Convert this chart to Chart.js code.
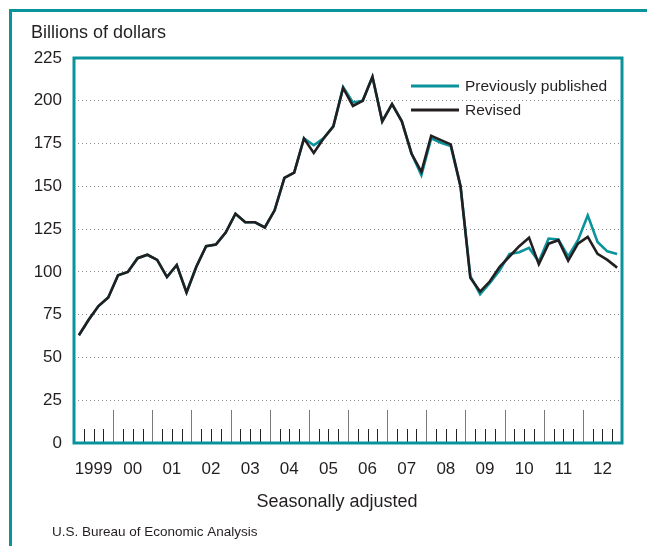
<!DOCTYPE html>
<html>
<head>
<meta charset="utf-8">
<script src="https://cdn.jsdelivr.net/npm/chart.js@4"></script>
<style>
  body { margin: 0; background: #fff; }
  canvas { display: block; }
</style>
</head>
<body>
<canvas id="myChart" width="647" height="546"></canvas>
<script>
// chart data (billions of dollars, quarterly 1999-2012)
var years = ["1999", "00", "01", "02", "03", "04", "05", "06", "07", "08", "09", "10", "11", "12"];
var quarters = [];
for (var y = 0; y < years.length; y++) {
	for (var q = 1; q <= 4; q++) quarters.push(years[y] + " Q" + q);
}
var yTicks = [0, 25, 50, 75, 100, 125, 150, 175, 200, 225];

var previouslyPublished = [
	63, 72, 80, 85, 98, 100, 108, 110, 107, 97, 104, 88,
	103, 115, 116, 123, 134, 129, 129, 126, 136, 155, 158, 178,
	174, 178, 185, 208, 199, 200, 214, 188, 198, 188, 169, 156.5,
	178, 175.5, 173.5, 150, 97.5, 87, 93.5, 101, 110.5, 111.5, 114, 106,
	119.5, 119, 109, 118.5, 133, 117.5, 112, 110.5
];
var revised = [
	63, 72, 80, 85, 98, 100, 108, 110, 107, 97, 104, 88,
	103, 115, 116, 123, 134, 129, 129, 126, 136, 155, 158, 178,
	169.5, 178, 185, 207.5, 197, 200, 214, 188, 198, 188, 169, 158.5,
	179.5, 177, 174.5, 150, 96.5, 88.5, 94.5, 103, 109, 115, 120, 104.5,
	116.5, 118.5, 106.5, 116.5, 120.5, 110.5, 107, 102.5
];

var teal = "#0b939b";
var ink = "#231f20";
var font = "'Liberation Sans', Arial, Helvetica, sans-serif";

// frame, quarter/year ticks, legend and notes
var decor = {
	id: "decor",
	beforeDatasetsDraw: function (chart) {
		var ctx = chart.ctx;
		var area = chart.chartArea;
		var xs = chart.scales.x;
		var step = xs.getPixelForValue(1) - xs.getPixelForValue(0);
		ctx.save();
		ctx.lineWidth = 1;
		for (var i = 1; i < quarters.length; i++) {
			var x = Math.round(xs.getPixelForValue(i) - step / 2) + 0.5;
			var major = i % 4 === 0;
			ctx.strokeStyle = major ? "#7a7a7a" : "#222";
			ctx.beginPath();
			ctx.moveTo(x, area.bottom);
			ctx.lineTo(x, area.bottom - (major ? 33 : 14));
			ctx.stroke();
		}
		ctx.restore();
	},
	afterDraw: function (chart) {
		var ctx = chart.ctx;
		var area = chart.chartArea;
		ctx.save();
		// outer border
		ctx.strokeStyle = teal;
		ctx.lineWidth = 3;
		ctx.strokeRect(10.5, 10.5, 700, 600);
		// plot frame
		ctx.strokeRect(area.left, area.top, area.right - area.left, area.bottom - area.top);

		ctx.fillStyle = ink;
		ctx.textBaseline = "alphabetic";
		ctx.textAlign = "left";
		ctx.font = "18px " + font;
		ctx.fillText("Billions of dollars", 31, 38);
		ctx.textAlign = "center";
		ctx.fillText("Seasonally adjusted", 337, 507);
		ctx.textAlign = "left";
		ctx.font = "13.5px " + font;
		ctx.fillText("U.S. Bureau of Economic Analysis", 52, 536);

		// legend
		var items = [chart.data.datasets[0], chart.data.datasets[1]];
		ctx.font = "15.5px " + font;
		ctx.textBaseline = "middle";
		for (var k = 0; k < items.length; k++) {
			var ly = 86 + k * 24;
			ctx.strokeStyle = items[k].borderColor;
			ctx.lineWidth = 3;
			ctx.beginPath();
			ctx.moveTo(411, ly);
			ctx.lineTo(459, ly);
			ctx.stroke();
			ctx.fillText(items[k].label, 465, ly + 1);
		}
		ctx.restore();
	},
};

var ctx = document.getElementById("myChart").getContext("2d");
var myChart = new Chart(ctx, {
	type: "line",
	data: {
		labels: quarters,
		datasets: [
			{
				label: "Previously published",
				data: previouslyPublished,
				borderColor: teal,
				borderWidth: 2.6,
				pointRadius: 0,
				order: 2,
			},
			{
				label: "Revised",
				data: revised,
				borderColor: ink,
				borderWidth: 2.6,
				pointRadius: 0,
				order: 1,
			},
		],
	},
	options: {
		responsive: false,
		devicePixelRatio: 1,
		animation: false,
		layout: {
			padding: { top: 58, right: 25, left: 0, bottom: 0 },
		},
		plugins: {
			legend: { display: false },
			tooltip: { enabled: false },
		},
		scales: {
			x: {
				type: "category",
				labels: quarters,
				offset: true,
				display: false,
			},
			years: {
				type: "category",
				labels: years,
				position: "bottom",
				offset: true,
				grid: { display: false },
				border: { display: false },
				ticks: {
					color: ink,
					font: { family: font, size: 17 },
					padding: 8,
					maxRotation: 0,
					autoSkip: false,
				},
				afterFit: function (scale) {
					scale.height = 103;
				},
			},
			y: {
				min: 0,
				max: 225,
				afterBuildTicks: function (scale) {
					scale.ticks = yTicks.map(function (v) {
						return { value: v };
					});
				},
				border: { display: false },
				grid: {
					color: "#8a8a8a",
					lineWidth: 1,
					drawTicks: false,
				},
				ticks: {
					color: ink,
					font: { family: font, size: 17 },
					padding: 12,
				},
				afterFit: function (scale) {
					scale.width = 74;
				},
			},
		},
	},
	plugins: [decor],
});

// dotted grid lines
myChart.options.scales.y.grid.borderDash = [1, 3];
myChart.options.scales.y.border.dash = [1, 3];
myChart.update();
</script>
</body>
</html>
